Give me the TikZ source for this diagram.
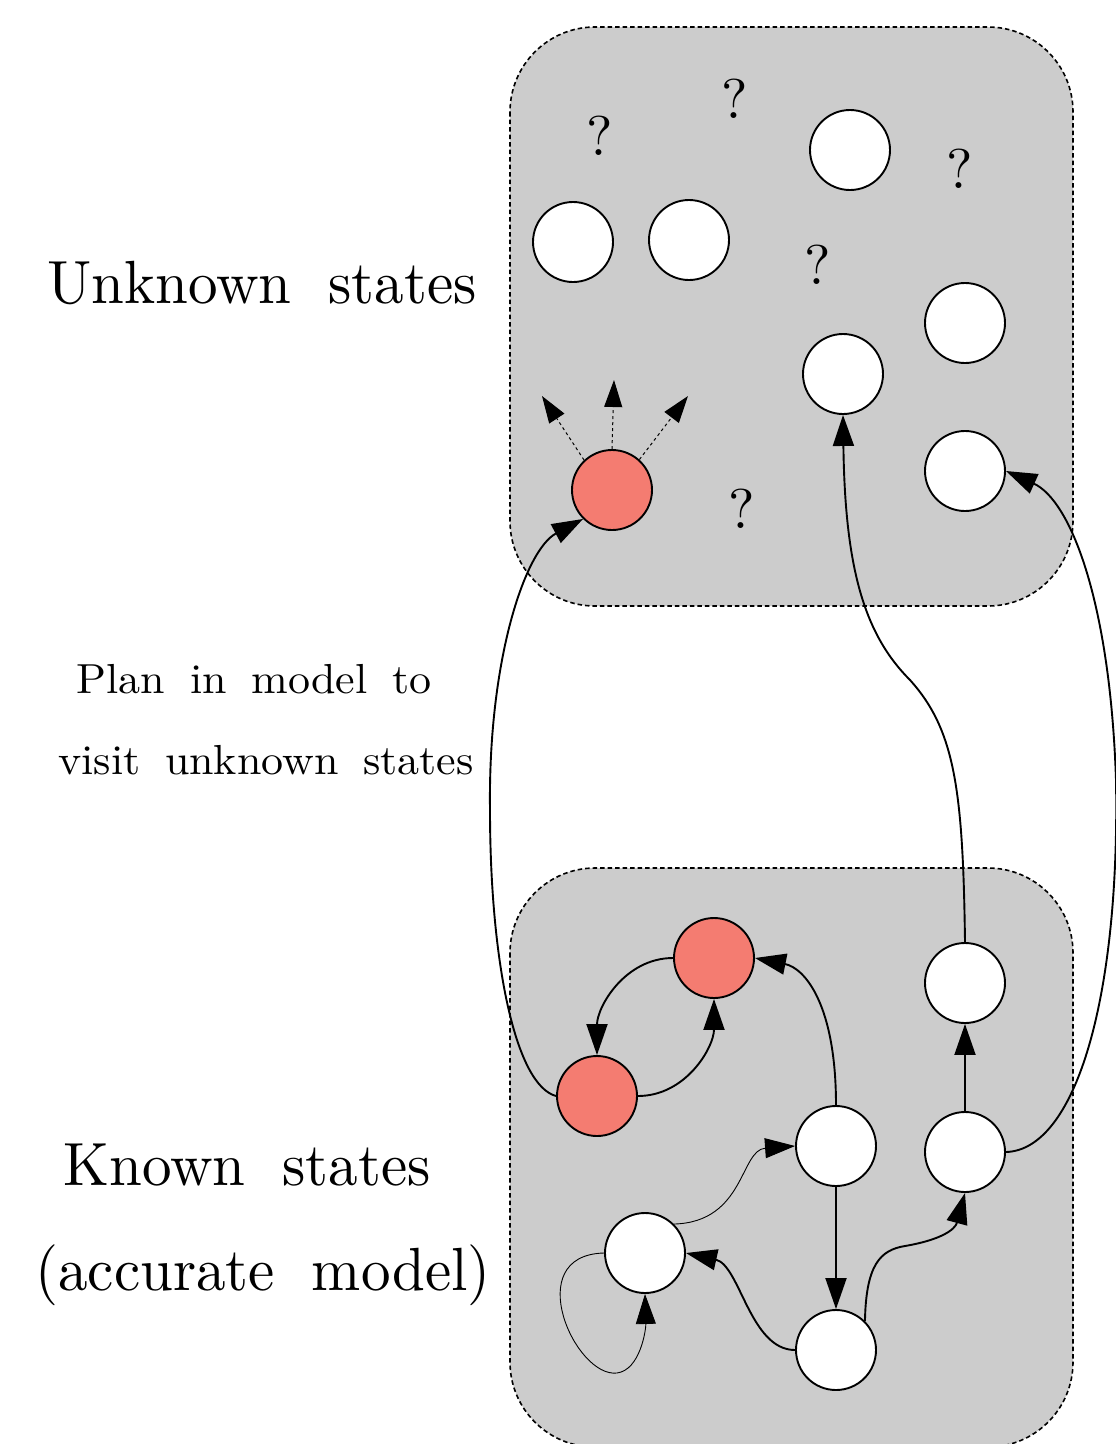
\documentclass[tikz,border=0pt]{standalone}
\usetikzlibrary{arrows.meta}
\definecolor{boxgray}{RGB}{204,204,204}
\definecolor{salmonred}{RGB}{244,124,113}
\begin{document}
\begin{tikzpicture}[x=1pt,y=-1pt,
  regionbox/.style={draw=black, fill=boxgray, line width=1.6pt, dash pattern=on 4.5pt off 3pt, rounded corners=85pt},
  state/.style={circle, draw=black, line width=1.9pt, fill=white, minimum size=80pt, inner sep=0pt},
  redstate/.style={state, fill=salmonred},
  conn/.style={line width=1.9pt, -{Triangle[length=31pt,width=21pt]}},
  thinconn/.style={line width=0.9pt, -{Triangle[length=30pt,width=20pt]}},
  dashconn/.style={line width=1pt, dash pattern=on 3pt off 3pt, -{Triangle[length=27pt,width=18pt]}},
  qmark/.style={inner sep=0pt, font=\fontsize{10}{12}\selectfont, scale=5.6},
  bigtxt/.style={inner sep=0pt, anchor=base, font={\fontsize{10}{12}\selectfont\spaceskip=6.3pt\relax}, xscale=5.9, yscale=6.1},
  smalltxt/.style={inner sep=0pt, anchor=base, font={\fontsize{10}{12}\selectfont\spaceskip=5.6pt\relax}, xscale=4.4, yscale=4.2}
]
\useasboundingbox (0,0) rectangle (1116,1444);

% region boxes
\draw[regionbox] (510,27) rectangle (1073,606);
\draw[regionbox] (510,868) rectangle (1073,1447);

% unknown states
\node[state] (A) at (573,242) {};
\node[state] (B) at (689,240) {};
\node[state] (C) at (850,150) {};
\node[state] (D) at (965,323) {};
\node[state] (E) at (843,374) {};
\node[state] (F) at (965,471) {};
\node[redstate] (R) at (612,490) {};

\node[qmark] (q1) at (600,136) {?};
\node[qmark] (q2) at (735,99) {?};
\node[qmark] (q3) at (960,169) {?};
\node[qmark] (q4) at (818,265) {?};
\node[qmark] (q5) at (742,509) {?};

% known states
\node[redstate] (P) at (714,958) {};
\node[redstate] (Q) at (597,1096) {};
\node[state] (G) at (836,1146) {};
\node[state] (H) at (965,983) {};
\node[state] (I) at (965,1152) {};
\node[state] (J) at (645,1253) {};
\node[state] (K) at (836,1350) {};

% free ends of the exploratory arrows
\coordinate (dl) at (542,396);
\coordinate (dm) at (614,380);
\coordinate (dr) at (688,396);

\draw[dashconn] (R.133) -- (dl);
\draw[dashconn] (R.90) -- (dm);
\draw[dashconn] (R.48) -- (dr);

% edges in known region
\draw[conn] (P.west) to[out=180,in=90] (Q.north);
\draw[conn] (Q.east) to[out=0,in=-90] (P.south);
\draw[conn] (G.north) .. controls (836,1005) and (805,968) .. (P.east);
\draw[conn] (G.south) -- (K.north);
\draw[conn] (K.west) .. controls (750,1350) and (740,1265) .. (J.east);
\draw[conn] (K.north east) .. controls (866,1265) and (880,1250) .. (905,1246)
   .. controls (940,1240) and (955,1230) .. (I.south);
\draw[conn] (I.north) -- (H.south);
\draw[thinconn] (J.45) .. controls (745,1222) and (740,1150) .. (G.west);
\draw[thinconn] (J.west) .. controls (520,1255) and (575,1378) .. (617,1373)
   .. controls (640,1370) and (646,1330) .. (J.south);

% edges between regions
\draw[conn] (Q.west) .. controls (515,1085) and (490,960) .. (490,810)
   .. controls (488,660) and (525,550) .. (R.south west);
\draw[conn] (H.north) .. controls (963,790) and (955,730) .. (910,680)
   .. controls (865,635) and (845,570) .. (E.south);
\draw[conn] (I.east) .. controls (1075,1150) and (1120,1000) .. (1116,780)
   .. controls (1110,600) and (1070,500) .. (F.east);

% labels
\node[bigtxt] (t1) at (262,303) {Unknown states};
\node[smalltxt] (t2) at (254,693) {Plan in model to};
\node[smalltxt] (t3) at (266,774) {visit unknown states};
\node[bigtxt] (t4) at (247,1185) {Known states};
\node[bigtxt] (t5) at (263,1290) {(accurate model)};
\end{tikzpicture}
\end{document}
